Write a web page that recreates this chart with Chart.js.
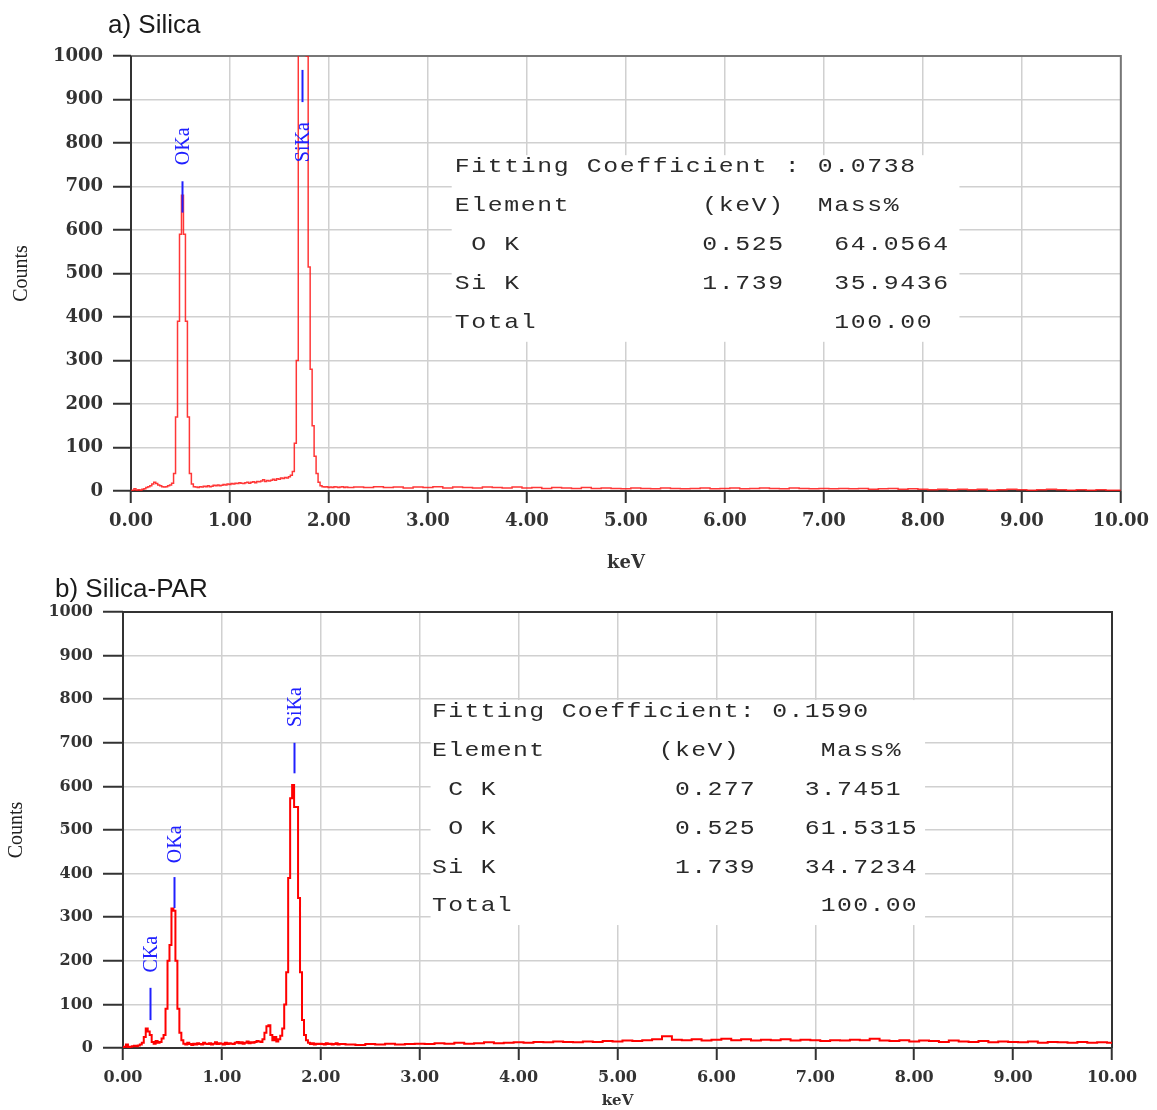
<!DOCTYPE html>
<html>
<head>
<meta charset="utf-8">
<script src="https://cdn.jsdelivr.net/npm/chart.js@4"></script>
<style>
  body { margin: 0; background: #fff; }
  #page { position: relative; width: 1157px; height: 1110px; overflow: hidden; }
  canvas { position: absolute; left: 0; }
  .title {
    position: absolute;
    font-family: "Liberation Sans", Arial, sans-serif;
    font-size: 26px;
    line-height: 30px;
    color: #1a1a1a;
    white-space: pre;
  }
</style>
</head>
<body>
<div id="page">
  <canvas id="chart-silica" width="1157" height="578" style="top:0"></canvas>
  <canvas id="chart-silica-par" width="1157" height="532" style="top:578px"></canvas>
  <div class="title" style="left:108px;top:9px">a) Silica</div>
  <div class="title" style="left:55px;top:573px">b) Silica-PAR</div>
</div>
<script>
// ==================================================
// DATA
// ==================================================
// tick labels
const keVLabels = ["0.00", "1.00", "2.00", "3.00", "4.00", "5.00", "6.00", "7.00", "8.00", "9.00", "10.00"];
const countLabels = ["0", "100", "200", "300", "400", "500", "600", "700", "800", "900", "1000"];

// channels: 0.00 - 2.20 keV every 0.02, then 2.3 - 10.0 keV every 0.1
const LOW_STEP = 0.02;
const HIGH_START = 2.3;
const HIGH_STEP = 0.1;

// a) Silica counts
const silicaLow = [
  0, 2, 5, 2, 3, 2, 4, 5, 8, 10,
  12, 16, 20, 17, 14, 12, 10, 9, 10, 12,
  14, 18, 40, 170, 390, 590, 680, 590, 390, 170,
  40, 16, 10, 9, 8, 10, 9, 11, 10, 12,
  10, 11, 13, 12, 14, 12, 13, 15, 14, 16,
  15, 17, 16, 18, 17, 19, 18, 17, 19, 20,
  18, 20, 21, 19, 22, 21, 23, 26, 22, 24,
  23, 25, 27, 25, 28, 27, 30, 29, 31, 30,
  33, 36, 45, 110, 300, 1100, 1500, 1500, 1300, 1000,
  515, 280, 150, 80, 40, 20, 12, 10, 9, 10,
  8, 9, 8, 10, 9, 8, 9, 10, 8, 9, 8
];
const silicaHigh = [
  9, 8, 10, 8, 9, 7, 9, 8, 10, 7,
  9, 8, 7, 9, 8, 7, 9, 7, 8, 6,
  8, 7, 6, 8, 6, 7, 6, 5, 7, 6,
  5, 7, 6, 5, 6, 7, 5, 6, 7, 5,
  6, 7, 6, 5, 7, 6, 5, 6, 5, 6,
  5, 6, 4, 5, 6, 4, 5, 4, 3, 4,
  3, 4, 3, 4, 2, 3, 4, 3, 2, 3,
  4, 3, 2, 3, 2, 3, 2, 2
];

// b) Silica-PAR counts
const parLow = [
  0, 3, 8, 2, 3, 4, 5, 4, 6, 8,
  12, 25, 45, 38, 30, 14, 10, 16, 12, 14,
  22, 30, 90, 200, 236, 320, 315, 200, 90, 35,
  18, 10, 8, 12, 9, 7, 10, 8, 11, 9,
  8, 12, 10, 9, 11, 8, 10, 13, 9, 11,
  10, 8, 12, 9, 11, 10, 9, 12, 14, 11,
  13, 10, 12, 15, 11, 13, 12, 14, 16, 15,
  14, 20, 35, 50, 52, 30, 18, 25, 15, 20,
  28, 45, 100, 174, 390, 573, 603, 553, 553, 344,
  174, 64, 30, 18, 12, 9, 11, 8, 10, 9,
  10, 9, 8, 11, 9, 10, 8, 9, 11, 8, 9
];
const parHigh = [
  8, 7, 9, 8, 10, 8, 9, 10, 9, 11,
  10, 12, 10, 11, 13, 11, 12, 13, 12, 14,
  13, 15, 14, 13, 15, 14, 16, 15, 17, 16,
  18, 20, 27, 19, 18, 20, 17, 19, 21, 18,
  20, 17, 19, 18, 20, 17, 19, 18, 16, 18,
  17, 19, 18, 21, 17, 16, 18, 15, 17, 16,
  14, 17, 15, 14, 16, 13, 15, 14, 13, 15,
  12, 14, 13, 12, 14, 12, 13, 12
];

// peak markers (energy in keV, line and label heights in counts)
const silicaPeaks = ["OKa", "SiKa"];
const silicaPeakKeV = [0.52, 1.73];
const silicaLineFrom = [640, 894];
const silicaLineTo = [712, 968];
const silicaLabelAt = [749, 756];

const parPeaks = ["CKa", "OKa", "SiKa"];
const parPeakKeV = [0.277, 0.52, 1.73];
const parLineFrom = [64, 321, 630];
const parLineTo = [138, 392, 700];
const parLabelAt = [173, 424, 736];

// quantification tables
const silicaElements = [" O K", "Si K"];
const silicaElementKeV = ["0.525", "1.739"];
const silicaMass = ["64.0564", "35.9436"];

const parElements = [" C K", " O K", "Si K"];
const parElementKeV = ["0.277", "0.525", "1.739"];
const parMass = ["3.7451", "61.5315", "34.7234"];

// ==================================================
// HELPERS
// ==================================================
const toSpectrum = (low, high) => {
  const points = [];
  low.forEach((c, i) => points.push({ x: Math.round(i * LOW_STEP * 100) / 100, y: c }));
  high.forEach((c, i) => points.push({ x: Math.round((HIGH_START + i * HIGH_STEP) * 100) / 100, y: c }));
  return points;
};

const pad = (text, col) => text + " ".repeat(Math.max(col - text.length, 0));

const buildRows = (title, head, elements, kev, mass, cols) => {
  const rows = [title, head];
  elements.forEach((el, i) => {
    rows.push(pad(pad(el, cols[0]) + kev[i], cols[1]) + mass[i]);
  });
  rows.push(pad("Total", cols[2]) + "100.00");
  return rows;
};

// draws the white table box, the table, the peak markers and the frame
const makeExtras = (panel) => ({
  id: "panelExtras",
  beforeDatasetsDraw(chart) {
    const { ctx, chartArea, scales } = chart;
    const x = scales.x;
    const y = scales.y;
    ctx.save();

    // white box under the table
    const bx0 = x.getPixelForValue(panel.box[0]);
    const bx1 = x.getPixelForValue(panel.box[1]);
    const by0 = y.getPixelForValue(panel.box[2]);
    const by1 = y.getPixelForValue(panel.box[3]);
    ctx.fillStyle = "#fff";
    ctx.fillRect(bx0, by0, bx1 - bx0, by1 - by0);

    // table text, one char per cell, a bit stretched like the printout
    ctx.font = panel.tableFont;
    ctx.fillStyle = "#2a2a2a";
    ctx.textAlign = "left";
    ctx.textBaseline = "middle";
    const tx = x.getPixelForValue(panel.tableAt[0]);
    const ty = y.getPixelForValue(panel.tableAt[1]);
    panel.rows.forEach((row, r) => {
      [...row].forEach((ch, i) => {
        if (ch === " ") return;
        ctx.save();
        ctx.translate(tx + i * panel.pitch, ty + r * panel.rowGap);
        ctx.scale(1.18, 1);
        ctx.fillText(ch, 0, 0);
        ctx.restore();
      });
    });

    // frame
    ctx.lineWidth = 2;
    ctx.strokeStyle = panel.frameColor;
    ctx.beginPath();
    ctx.moveTo(chartArea.left, chartArea.top);
    ctx.lineTo(chartArea.right, chartArea.top);
    ctx.lineTo(chartArea.right, chartArea.bottom);
    ctx.stroke();
    ctx.strokeStyle = "#333";
    ctx.beginPath();
    ctx.moveTo(chartArea.left, chartArea.top);
    ctx.lineTo(chartArea.left, chartArea.bottom);
    ctx.lineTo(chartArea.right, chartArea.bottom);
    ctx.stroke();
    ctx.restore();
  },
  afterDatasetsDraw(chart) {
    const { ctx, scales } = chart;
    const x = scales.x;
    const y = scales.y;
    ctx.save();
    ctx.strokeStyle = "#2020ff";
    ctx.fillStyle = "#2020ff";
    ctx.lineWidth = 2;
    ctx.font = '20px "Liberation Serif", serif';
    ctx.textAlign = "left";
    ctx.textBaseline = "middle";
    panel.peaks.forEach((name, i) => {
      const px = Math.round(x.getPixelForValue(panel.peakKeV[i])) + 0.5;
      ctx.beginPath();
      ctx.moveTo(px, y.getPixelForValue(panel.lineFrom[i]));
      ctx.lineTo(px, y.getPixelForValue(panel.lineTo[i]));
      ctx.stroke();
      ctx.save();
      ctx.translate(px + 1, y.getPixelForValue(panel.labelAt[i]));
      ctx.rotate(-Math.PI / 2);
      ctx.fillText(name, 0, 0);
      ctx.restore();
    });
    ctx.restore();
  },
});

// ==================================================
// CHART JS CANVAS
// ==================================================
const makeChart = (id, points, panel, look) => {
  const ctx = document.getElementById(id).getContext("2d");
  return new Chart(ctx, {
    type: "line",
    data: {
      datasets: [
        {
          data: points,
          borderColor: look.lineColor,
          borderWidth: look.lineWidth,
          pointRadius: 0,
          stepped: "middle",
          fill: false,
        },
      ],
    },
    options: {
      responsive: false,
      animation: false,
      events: [],
      layout: { padding: look.padding },
      plugins: { legend: { display: false }, tooltip: { enabled: false } },
      scales: {
        x: {
          type: "linear",
          min: 0,
          max: 10,
          border: { display: false },
          grid: { color: "#d0d0d0", lineWidth: 1.5, tickLength: 12, tickColor: "#333", tickWidth: 2 },
          ticks: {
            stepSize: 1,
            autoSkip: false,
            maxRotation: 0,
            padding: 8,
            color: "#333",
            font: look.tickFont,
            callback: (value, index) => keVLabels[index],
          },
          title: {
            display: true,
            text: "keV",
            color: "#333",
            font: look.xTitleFont,
            padding: { top: 0, bottom: look.xTitlePad },
          },
          afterFit: (scale) => { scale.height = look.xHeight; },
        },
        y: {
          min: 0,
          max: 1000,
          border: { display: false },
          grid: { color: "#d0d0d0", lineWidth: 1.5, tickLength: look.yTick, tickColor: "#333", tickWidth: 2 },
          ticks: {
            stepSize: 100,
            padding: 10,
            color: "#333",
            font: look.tickFont,
            callback: (value, index) => countLabels[index],
          },
          title: {
            display: true,
            text: "Counts",
            color: "#222",
            font: { family: '"Liberation Serif", serif', size: 20 },
            padding: { top: look.yTitlePad, bottom: 0 },
          },
          afterFit: (scale) => { scale.width = look.yWidth; },
        },
      },
    },
    plugins: [makeExtras(panel)],
  });
};

// a) Silica
makeChart(
  "chart-silica",
  toSpectrum(silicaLow, silicaHigh),
  {
    box: [3.24, 8.37, 772, 343],
    tableAt: [3.27, 745],
    tableFont: '21px "Liberation Mono", monospace',
    pitch: 16.5,
    rowGap: 39,
    rows: buildRows(
      "Fitting Coefficient : 0.0738",
      "Element        (keV)  Mass%",
      silicaElements, silicaElementKeV, silicaMass, [15, 23, 23]
    ),
    peaks: silicaPeaks,
    peakKeV: silicaPeakKeV,
    lineFrom: silicaLineFrom,
    lineTo: silicaLineTo,
    labelAt: silicaLabelAt,
    frameColor: "#777",
  },
  {
    lineColor: "rgba(255, 20, 20, 0.85)",
    lineWidth: 1.5,
    padding: { top: 56, left: 0, right: 36, bottom: 0 },
    tickFont: { family: '"DejaVu Serif", serif', size: 18, weight: "bold" },
    xTitleFont: { family: '"DejaVu Serif", serif', size: 18, weight: "bold" },
    xTitlePad: 4,
    xHeight: 87,
    yWidth: 131,
    yTick: 18,
    yTitlePad: 10,
  }
);

// b) Silica-PAR
makeChart(
  "chart-silica-par",
  toSpectrum(parLow, parHigh),
  {
    box: [3.11, 8.11, 798, 282],
    tableAt: [3.125, 771],
    tableFont: '21px "Liberation Mono", monospace',
    pitch: 16.2,
    rowGap: 38.8,
    rows: buildRows(
      "Fitting Coefficient: 0.1590",
      "Element       (keV)     Mass%",
      parElements, parElementKeV, parMass, [15, 23, 24]
    ),
    peaks: parPeaks,
    peakKeV: parPeakKeV,
    lineFrom: parLineFrom,
    lineTo: parLineTo,
    labelAt: parLabelAt,
    frameColor: "#333",
  },
  {
    lineColor: "#ff0000",
    lineWidth: 2,
    padding: { top: 34, left: 0, right: 45, bottom: 0 },
    tickFont: { family: '"DejaVu Serif", serif', size: 16, weight: "bold" },
    xTitleFont: { family: '"DejaVu Serif", serif', size: 15, weight: "bold" },
    xTitlePad: 0,
    xHeight: 62,
    yWidth: 123,
    yTick: 20,
    yTitlePad: 5,
  }
);
</script>
</body>
</html>
